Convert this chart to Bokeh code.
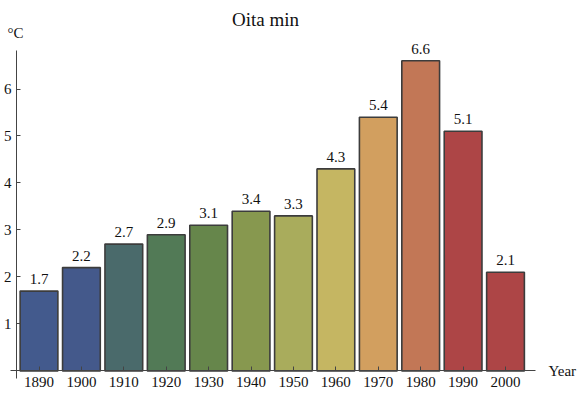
from bokeh.plotting import figure
from bokeh.models import ColumnDataSource, FixedTicker, Range1d, Label
from bokeh.core.properties import value
from bokeh.embed import file_html
from bokeh.resources import INLINE

# Decadal minimum temperature, Oita
years = [1890, 1900, 1910, 1920, 1930, 1940, 1950, 1960, 1970, 1980, 1990, 2000]
temps = [1.7, 2.2, 2.7, 2.9, 3.1, 3.4, 3.3, 4.3, 5.4, 6.6, 5.1, 2.1]
colors = ["#435A8D", "#44598B", "#4A6A6B", "#527A56", "#66864B", "#87984F",
          "#A9AC5C", "#C5B662", "#D29F5F", "#C27756", "#AD4546", "#AD4546"]
y_ticks = [1, 2, 3, 4, 5, 6]

FONT = "Liberation Serif"

source = ColumnDataSource(data=dict(
    year=years,
    temp=temps,
    color=colors,
    label=[f"{t:.1f}" for t in temps],
))

# The plotting area fills the whole canvas; axes are placed inside it and
# cross near the origin.
p = figure(
    width=578, height=396,
    x_range=Range1d(1880.92, 2017.21),
    y_range=Range1d(-0.5426, 7.883),
    output_backend="svg", toolbar_location=None,
    min_border_left=0, min_border_right=0,
    min_border_top=0, min_border_bottom=0,
    background_fill_color="white", border_fill_color="white",
)
p.outline_line_color = None
p.grid.visible = False
p.title.visible = False

p.vbar(x="year", top="temp", bottom=0, width=8.9, source=source,
       fill_color="color", line_color="#3C3C3C", line_width=1.6)

p.text(x="year", y="temp", text="label", source=source,
       text_font=value(FONT), text_font_size="15px", text_color="#111111",
       text_align="center", text_baseline="alphabetic", y_offset=-12)

p.xaxis.fixed_location = 0
p.yaxis.fixed_location = 1884.7
p.xaxis.bounds = (1883.28, 2007.07)
p.yaxis.bounds = (-0.16, 6.82)

for ax in (p.xaxis[0], p.yaxis[0]):
    ax.axis_line_color = "#444444"
    ax.axis_line_width = 1
    ax.major_tick_line_color = "#444444"
    ax.major_tick_in = 4
    ax.major_tick_out = 0
    ax.minor_tick_line_color = None
    ax.major_label_text_font = FONT
    ax.major_label_text_font_size = "15px"
    ax.major_label_text_color = "#111111"

p.xaxis.ticker = FixedTicker(ticks=years)
p.yaxis.ticker = FixedTicker(ticks=y_ticks)
p.xaxis.major_label_standoff = 6
p.yaxis.major_label_standoff = 5

p.add_layout(Label(x=1943.41, y=7.48, text="Oita min", text_font=FONT,
                   text_font_size="19px", text_align="center",
                   text_baseline="alphabetic", text_color="#111111"))
p.add_layout(Label(x=1882.57, y=7.2, text="°C", text_font=FONT,
                   text_font_size="15px", text_align="left",
                   text_baseline="middle", text_color="#111111"))
p.add_layout(Label(x=2010.13, y=0.0, text="Year", text_font=FONT,
                   text_font_size="15px", text_align="left",
                   text_baseline="middle", text_color="#111111"))

open("out.html", "w").write(file_html(p, INLINE))
